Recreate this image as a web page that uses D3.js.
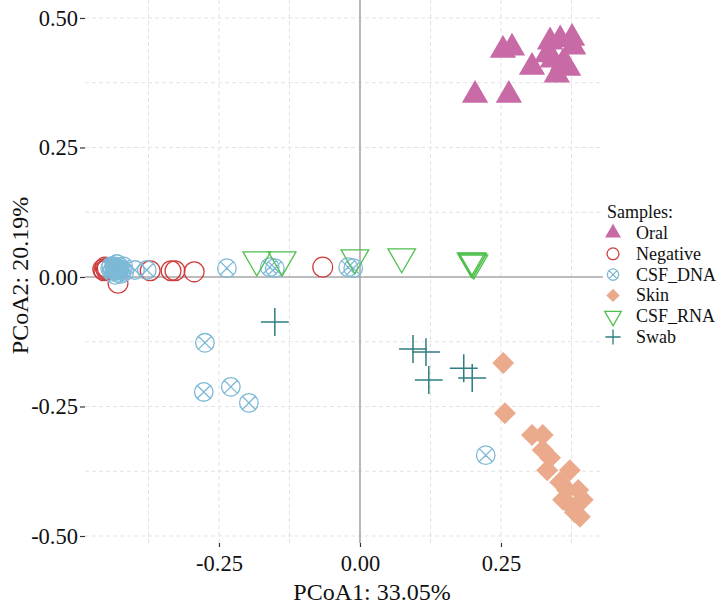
<!DOCTYPE html>
<html>
<head>
<meta charset="utf-8">
<script src="https://cdn.jsdelivr.net/npm/d3@7"></script>
<style>
  body { margin: 0; background: #fff; }
  svg { display: block; }
  text { font-family: "Liberation Serif", "Times New Roman", serif; fill: #111; }
</style>
</head>
<body>
<svg id="chart" width="723" height="606"></svg>
<script>
// ---------------- DATA ----------------
const groups = ["Oral", "Negative", "CSF_DNA", "Skin", "CSF_RNA", "Swab"];
const groupColors = ["#C86AA6", "#CF3C3C", "#7DB9D6", "#EBAA8C", "#4EC04E", "#2E7D82"];

const oralX = [0.2535, 0.2695, 0.204, 0.264, 0.337, 0.355, 0.376, 0.305, 0.332, 0.349, 0.360, 0.378, 0.369, 0.342];
const oralY = [0.438, 0.442, 0.351, 0.351, 0.454, 0.458, 0.461, 0.405, 0.429, 0.390, 0.413, 0.444, 0.403, 0.419];

const negX = [-0.456, -0.454, -0.452, -0.450, -0.448, -0.429, -0.372, -0.335, -0.328, -0.294, -0.066];
const negY = [0.015, 0.012, 0.019, 0.014, 0.017, -0.012, 0.012, 0.012, 0.012, 0.010, 0.019];

const dnaX = [-0.443, -0.440, -0.436, -0.433, -0.429, -0.426, -0.422, -0.418, -0.431, -0.438, -0.427, -0.424, -0.434, -0.420, -0.441,
              -0.432, -0.430, -0.435, -0.428, -0.399, -0.378, -0.236, -0.160, -0.151, -0.021, -0.012, -0.275, -0.277, -0.229, -0.197, 0.223];
const dnaY = [0.017, 0.010, 0.021, 0.014, 0.008, 0.019, 0.014, 0.010, 0.025, 0.014, 0.015, 0.006, 0.004, 0.021, 0.021,
              0.016, 0.012, 0.018, 0.013, 0.0135, 0.0135, 0.017, 0.019, 0.017, 0.019, 0.017, -0.127, -0.222, -0.212, -0.243, -0.344];

const skinX = [0.254, 0.257, 0.305, 0.324, 0.324, 0.337, 0.332, 0.372, 0.355, 0.367, 0.387, 0.360, 0.376, 0.390, 0.395, 0.381];
const skinY = [-0.166, -0.263, -0.305, -0.305, -0.334, -0.349, -0.373, -0.373, -0.396, -0.411, -0.411, -0.430, -0.444, -0.463, -0.430, -0.454];

const rnaX = [-0.183, -0.138, -0.009, 0.074, 0.199, 0.197, 0.202, 0.200];
const rnaY = [0.033, 0.033, 0.037, 0.039, 0.029, 0.031, 0.027, 0.030];

const swabX = [-0.151, 0.094, 0.117, 0.122, 0.184, 0.199];
const swabY = [-0.087, -0.139, -0.145, -0.199, -0.176, -0.195];

const xTicks = [-0.25, 0.00, 0.25];
const yTicks = [-0.50, -0.25, 0.00, 0.25, 0.50];
const xMinor = [-0.375, -0.125, 0.125, 0.375];
const yMinor = [-0.375, -0.125, 0.125, 0.375];

const xTitle = "PCoA1: 33.05%";
const yTitle = "PCoA2: 20.19%";
const legendTitle = "Samples:";

// ---------------- SETUP ----------------
const svg = d3.select("#chart");
const panel = { left: 85, right: 603, top: 0, bottom: 543 };

const x = d3.scaleLinear().domain([-0.4876, 0.4309]).range([panel.left, panel.right]);
const y = d3.scaleLinear().domain([-0.5135, 0.5347]).range([panel.bottom, panel.top]);

const fmt = v => d3.format(".2f")(v).replace("\u2212", "-");

// grid lines
const grid = svg.append("g");
const gridStyle = sel => sel.attr("stroke", "#e3e3e3").attr("stroke-width", 1).attr("stroke-dasharray", "4,3");
grid.selectAll(".h").data(yTicks.concat(yMinor)).join("line")
  .attr("x1", panel.left).attr("x2", panel.right)
  .attr("y1", d => y(d)).attr("y2", d => y(d)).call(gridStyle);
grid.selectAll(".v").data(xTicks.concat(xMinor)).join("line")
  .attr("y1", panel.top).attr("y2", panel.bottom)
  .attr("x1", d => x(d)).attr("x2", d => x(d)).call(gridStyle);

// zero lines
svg.append("line").attr("x1", panel.left).attr("x2", panel.right)
  .attr("y1", y(0)).attr("y2", y(0)).attr("stroke", "#a8a8a8").attr("stroke-width", 1.6);
svg.append("line").attr("x1", x(0)).attr("x2", x(0))
  .attr("y1", panel.top).attr("y2", panel.bottom).attr("stroke", "#a8a8a8").attr("stroke-width", 1.6);

// axes
const xAxis = d3.axisBottom(x).tickValues(xTicks).tickFormat(fmt).tickSize(4).tickPadding(8);
const yAxis = d3.axisLeft(y).tickValues(yTicks).tickFormat(fmt).tickSize(5).tickPadding(2);
const gx = svg.append("g").attr("transform", `translate(0,${panel.bottom})`).call(xAxis);
const gy = svg.append("g").attr("transform", `translate(${panel.left},0)`).call(yAxis);
[gx, gy].forEach(g => {
  g.select(".domain").remove();
  g.selectAll(".tick line").attr("stroke", "#333").attr("stroke-width", 1.2);
  g.selectAll(".tick text").style("font-family", '"Liberation Serif", serif').style("font-size", "22.5px").attr("fill", "#111");
});

// axis titles
svg.append("text").attr("x", 372).attr("y", 600).attr("text-anchor", "middle")
  .style("font-size", "24px").text(xTitle);
svg.append("text").attr("transform", `translate(28,${(panel.top + panel.bottom) / 2 + 4}) rotate(-90)`)
  .attr("text-anchor", "middle").style("font-size", "24px").text(yTitle);

// ---------------- SYMBOLS ----------------
const triUp = { draw(ctx, size) { const h = Math.sqrt(size / (Math.sqrt(3) * 3)); ctx.moveTo(0, -2 * h); ctx.lineTo(Math.sqrt(3) * h, h); ctx.lineTo(-Math.sqrt(3) * h, h); ctx.closePath(); } };
const triDown = { draw(ctx, size) { const h = Math.sqrt(size / (Math.sqrt(3) * 3)); ctx.moveTo(0, 2 * h); ctx.lineTo(Math.sqrt(3) * h, -h); ctx.lineTo(-Math.sqrt(3) * h, -h); ctx.closePath(); } };
const diamond = { draw(ctx, size) { const r = Math.sqrt(size / 2); ctx.moveTo(0, -r); ctx.lineTo(r, 0); ctx.lineTo(0, r); ctx.lineTo(-r, 0); ctx.closePath(); } };
const circle = { draw(ctx, size) { const r = Math.sqrt(size / Math.PI); ctx.moveTo(r, 0); ctx.arc(0, 0, r, 0, 2 * Math.PI); } };
const xCircle = { draw(ctx, size) { const r = Math.sqrt(size / Math.PI); ctx.moveTo(r, 0); ctx.arc(0, 0, r, 0, 2 * Math.PI); const a = r * Math.SQRT1_2; ctx.moveTo(-a, -a); ctx.lineTo(a, a); ctx.moveTo(-a, a); ctx.lineTo(a, -a); } };
const plus = { draw(ctx, size) { const r = Math.sqrt(size) / 2; ctx.moveTo(-r, 0); ctx.lineTo(r, 0); ctx.moveTo(0, -r); ctx.lineTo(0, r); } };

const spec = {
  Oral:     { type: triUp,   size: 300, filled: true,  legendSize: 110 },
  Negative: { type: circle,  size: 310, filled: false, legendSize: 110 },
  CSF_DNA:  { type: xCircle, size: 270, filled: false, legendSize: 100 },
  Skin:     { type: diamond, size: 240, filled: true,  legendSize: 90 },
  CSF_RNA:  { type: triDown, size: 330, filled: false, legendSize: 120 },
  Swab:     { type: plus,    size: 780, filled: false, legendSize: 230 }
};

const series = [
  { name: "Oral", xs: oralX, ys: oralY },
  { name: "Negative", xs: negX, ys: negY },
  { name: "CSF_DNA", xs: dnaX, ys: dnaY },
  { name: "Skin", xs: skinX, ys: skinY },
  { name: "CSF_RNA", xs: rnaX, ys: rnaY },
  { name: "Swab", xs: swabX, ys: swabY }
];

const color = d3.scaleOrdinal().domain(groups).range(groupColors);

const pts = svg.append("g");
series.forEach(s => {
  const sp = spec[s.name];
  const data = s.xs.map((v, i) => ({ x: v, y: s.ys[i] }));
  pts.append("g").selectAll("path").data(data).join("path")
    .attr("transform", d => `translate(${x(d.x)},${y(d.y)})`)
    .attr("d", d3.symbol().type(sp.type).size(sp.size))
    .attr("fill", sp.filled ? color(s.name) : "none")
    .attr("stroke", sp.filled ? "none" : color(s.name))
    .attr("stroke-width", s.name === "Swab" ? 1.5 : 1.3);
});

// ---------------- LEGEND ----------------
const lg = svg.append("g");
lg.append("text").attr("x", 607).attr("y", 218).style("font-size", "18px").text(legendTitle);
groups.forEach((g, i) => {
  const sp = spec[g];
  const cy = 233 + i * 20.8;
  lg.append("path")
    .attr("transform", `translate(613,${cy})`)
    .attr("d", d3.symbol().type(sp.type).size(sp.legendSize))
    .attr("fill", sp.filled ? color(g) : "none")
    .attr("stroke", sp.filled ? "none" : color(g))
    .attr("stroke-width", 1.3);
  lg.append("text").attr("x", 636).attr("y", cy + 6).style("font-size", "18px").text(g);
});
</script>
</body>
</html>
